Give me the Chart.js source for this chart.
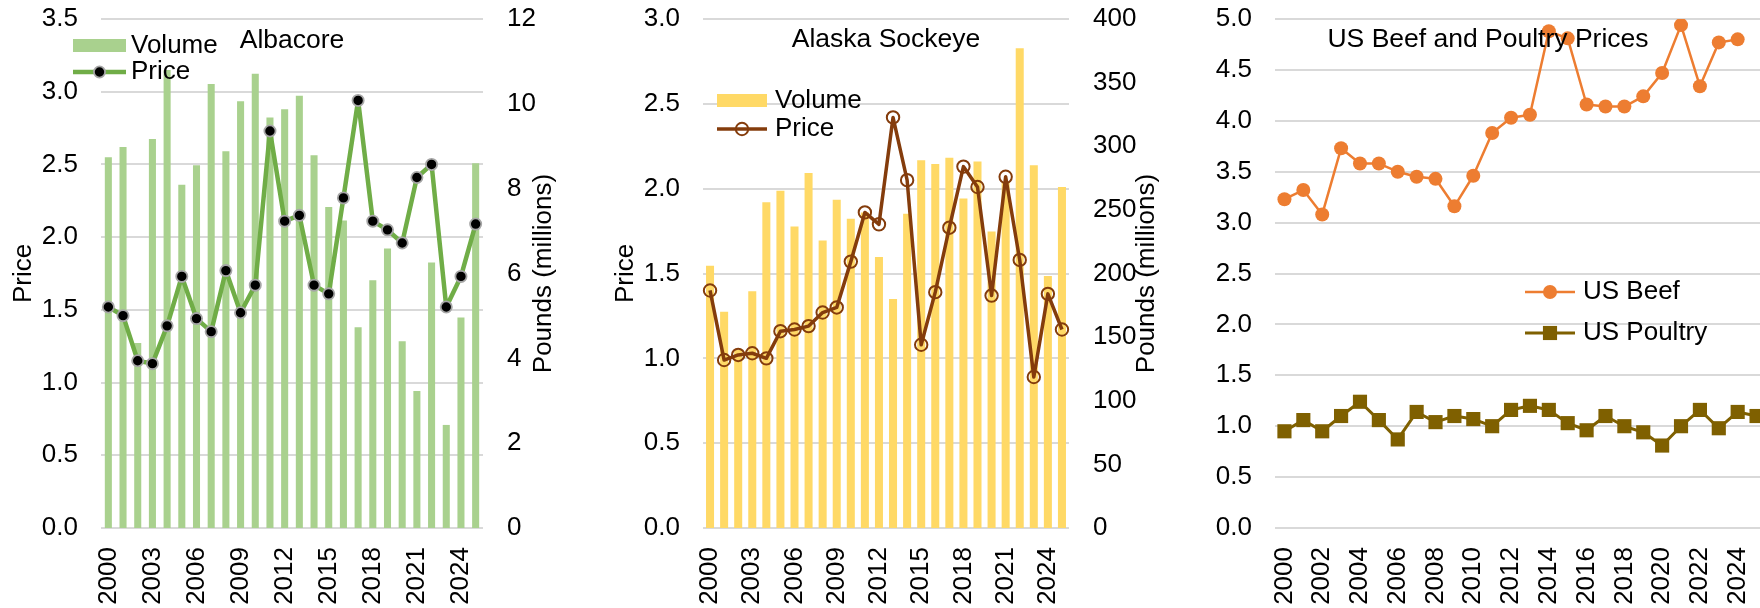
<!DOCTYPE html>
<html><head><meta charset="utf-8">
<script src="https://cdn.jsdelivr.net/npm/chart.js@4.4.1/dist/chart.umd.min.js"></script>
<style>
html,body{margin:0;padding:0;background:#fff;overflow:hidden;width:1760px;height:608px;}
canvas{position:absolute;top:0;}
</style></head><body>
<canvas id="c1" width="580" height="608" style="left:0px"></canvas>
<canvas id="c2" width="590" height="608" style="left:580px"></canvas>
<canvas id="c3" width="606" height="608" style="left:1170px"></canvas>
<script>
// ---------- DATA ----------
const years = ['2000','2001','2002','2003','2004','2005','2006','2007','2008','2009','2010','2011','2012','2013','2014','2015','2016','2017','2018','2019','2020','2021','2022','2023','2024','2025'];
const fishTickLabels = ['2000','2003','2006','2009','2012','2015','2018','2021','2024'];
const meatTickLabels = ['2000','2002','2004','2006','2008','2010','2012','2014','2016','2018','2020','2022','2024'];

const albacoreVolume = [8.74, 8.98, 4.36, 9.17, 10.8, 8.09, 8.55, 10.47, 8.88, 10.06, 10.71, 9.68, 9.87, 10.19, 8.79, 7.57, 7.25, 4.73, 5.84, 6.59, 4.40, 3.23, 6.26, 2.43, 4.96, 8.60];
const albacorePrice  = [1.52, 1.46, 1.15, 1.13, 1.39, 1.73, 1.44, 1.35, 1.77, 1.48, 1.67, 2.73, 2.11, 2.15, 1.67, 1.61, 2.27, 2.94, 2.11, 2.05, 1.96, 2.41, 2.50, 1.52, 1.73, 2.09];

const sockeyeVolume = [206, 170, 140, 186, 256, 265, 237, 279, 226, 258, 243, 248, 213, 180, 247, 289, 286, 291, 259, 288, 233, 272, 377, 285, 198, 268];
const sockeyePrice  = [1.40, 0.99, 1.02, 1.03, 1.00, 1.16, 1.17, 1.19, 1.27, 1.30, 1.57, 1.86, 1.79, 2.42, 2.05, 1.08, 1.39, 1.77, 2.13, 2.01, 1.37, 2.07, 1.58, 0.89, 1.38, 1.17];

const beefPrice    = [3.23, 3.32, 3.08, 3.73, 3.58, 3.58, 3.50, 3.45, 3.43, 3.16, 3.46, 3.88, 4.03, 4.06, 4.88, 4.81, 4.16, 4.14, 4.14, 4.24, 4.47, 4.94, 4.34, 4.77, 4.80, null];
const poultryPrice = [0.95, 1.06, 0.95, 1.10, 1.24, 1.06, 0.87, 1.14, 1.04, 1.10, 1.07, 1.00, 1.16, 1.20, 1.16, 1.03, 0.96, 1.10, 1.00, 0.94, 0.81, 1.00, 1.16, 0.98, 1.14, 1.10];

// ---------- STYLE ----------
const FAMILY = "'Liberation Sans', Arial, sans-serif";
const FS = 26;
const TITLE_FS = 26.5;
Chart.defaults.font.family = FAMILY;
Chart.defaults.font.size = FS;
Chart.defaults.color = '#000';
Chart.defaults.animation = false;
const GRID = '#d9d9d9';

const overlay = {
  id: 'overlay',
  afterDraw(chart, args, o) {
    const ctx = chart.ctx;
    ctx.save();
    ctx.textBaseline = 'middle';
    ctx.fillStyle = '#000';
    if (o.title) {
      ctx.font = TITLE_FS + 'px ' + FAMILY;
      ctx.textAlign = 'center';
      ctx.fillText(o.title.text, o.title.x, o.title.y);
    }
    ctx.font = FS + 'px ' + FAMILY;
    (o.legend || []).forEach(it => {
      const ds = chart.data.datasets[it.ds];
      if (ds.type === 'bar') {
        ctx.fillStyle = ds.backgroundColor;
        ctx.fillRect(it.x0, it.y - it.h / 2, it.x1 - it.x0, it.h);
      } else {
        ctx.strokeStyle = ds.borderColor;
        ctx.lineWidth = ds.borderWidth;
        ctx.beginPath(); ctx.moveTo(it.x0, it.y); ctx.lineTo(it.x1, it.y); ctx.stroke();
        const mx = (it.x0 + it.x1) / 2;
        const r = ds.pointRadius;
        ctx.beginPath();
        if (ds.pointStyle === 'rect') {
          const s = r * Math.SQRT1_2;
          ctx.rect(mx - s, it.y - s, 2 * s, 2 * s);
        } else {
          ctx.arc(mx, it.y, r, 0, Math.PI * 2);
        }
        ctx.fillStyle = ds.pointBackgroundColor;
        ctx.fill();
        if (ds.pointBorderWidth > 0) {
          ctx.strokeStyle = ds.pointBorderColor;
          ctx.lineWidth = ds.pointBorderWidth;
          ctx.stroke();
        }
      }
      ctx.fillStyle = '#000';
      ctx.textAlign = 'left';
      ctx.fillText(ds.label, it.tx, it.y);
    });
    if (o.rightTitle) {
      const a = chart.chartArea;
      ctx.translate(o.rightTitle.x, (a.top + a.bottom) / 2);
      ctx.rotate(-Math.PI / 2);
      ctx.textAlign = 'center';
      ctx.fillStyle = '#000';
      ctx.fillText(o.rightTitle.text, 0, 0);
    }
    ctx.restore();
  }
};

function xAxis(tickSet) {
  return {
    type: 'category', offset: true,
    grid: { display: false, drawTicks: false },
    border: { display: false },
    ticks: {
      autoSkip: false, minRotation: 90, maxRotation: 90, padding: 19,
      callback: function(v, i) { const l = this.getLabelForValue(v); return tickSet.includes(l) ? l : ''; }
    },
    afterFit(s) { s.height = 80; s.paddingLeft = 0; s.paddingRight = 0; }
  };
}
function yAxis(pos, max, step, width, dec, grid, title, titlePad) {
  return {
    position: pos, min: 0, max: max,
    grid: { display: grid, color: GRID, lineWidth: 2, drawTicks: false },
    border: { display: false },
    ticks: { stepSize: step, padding: pos === 'left' ? 23 : 24, callback: v => v.toFixed(dec) },
    title: title ? { display: true, text: title, padding: { top: titlePad, bottom: 0 } } : { display: false },
    afterFit(s) { s.width = width; s.paddingTop = 0; s.paddingBottom = 0; }
  };
}

// ---------- PANEL 1: Albacore ----------
new Chart(document.getElementById('c1'), {
  data: {
    labels: years,
    datasets: [
      { type: 'line', label: 'Price', data: albacorePrice, yAxisID: 'y', order: 0,
        borderColor: '#70AD47', borderWidth: 4.5, tension: 0, borderJoinStyle: 'round',
        pointRadius: 5.6, pointBackgroundColor: '#000', pointBorderColor: '#a6a6a6', pointBorderWidth: 1.8 },
      { type: 'bar', label: 'Volume', data: albacoreVolume, yAxisID: 'y1', order: 1,
        backgroundColor: '#A9D18E', barPercentage: 0.48, categoryPercentage: 1 }
    ]
  },
  options: {
    responsive: false,
    layout: { padding: { top: 19, left: 0, right: 0, bottom: 0 } },
    plugins: { legend: { display: false }, tooltip: { enabled: false },
      overlay: {
        title: { text: 'Albacore', x: 292, y: 41 },
        legend: [ { ds: 1, x0: 73, x1: 126, y: 45.5, h: 13, tx: 131 },
                  { ds: 0, x0: 73, x1: 126, y: 72, tx: 131 } ],
        rightTitle: { text: 'Pounds (millions)', x: 544 }
      } },
    scales: {
      x: xAxis(fishTickLabels),
      y: yAxis('left', 3.5, 0.5, 101, 1, true, 'Price', 8),
      y1: yAxis('right', 12, 2, 97, 0, false, null, 0)
    }
  },
  plugins: [overlay]
});

// ---------- PANEL 2: Alaska Sockeye ----------
new Chart(document.getElementById('c2'), {
  data: {
    labels: years,
    datasets: [
      { type: 'line', label: 'Price', data: sockeyePrice, yAxisID: 'y', order: 0,
        borderColor: '#843C0C', borderWidth: 3.5, tension: 0, borderJoinStyle: 'round',
        pointRadius: 6.2, pointBackgroundColor: 'rgba(0,0,0,0)', pointBorderColor: '#843C0C', pointBorderWidth: 2 },
      { type: 'bar', label: 'Volume', data: sockeyeVolume, yAxisID: 'y1', order: 1,
        backgroundColor: '#FFD966', barPercentage: 0.57, categoryPercentage: 1 }
    ]
  },
  options: {
    responsive: false,
    layout: { padding: { top: 19, left: 0, right: 0, bottom: 0 } },
    plugins: { legend: { display: false }, tooltip: { enabled: false },
      overlay: {
        title: { text: 'Alaska Sockeye', x: 306, y: 40 },
        legend: [ { ds: 1, x0: 137, x1: 187, y: 100.5, h: 13, tx: 195 },
                  { ds: 0, x0: 137, x1: 187, y: 129, tx: 195 } ],
        rightTitle: { text: 'Pounds (millions)', x: 567 }
      } },
    scales: {
      x: xAxis(fishTickLabels),
      y: yAxis('left', 3.0, 0.5, 123, 1, true, 'Price', 30),
      y1: yAxis('right', 400, 50, 101, 0, false, null, 0)
    }
  },
  plugins: [overlay]
});

// ---------- PANEL 3: US Beef and Poultry ----------
new Chart(document.getElementById('c3'), {
  data: {
    labels: years,
    datasets: [
      { type: 'line', label: 'US Beef', data: beefPrice, yAxisID: 'y',
        borderColor: '#ED7D31', borderWidth: 2.5, tension: 0, borderJoinStyle: 'round',
        pointRadius: 7, pointStyle: 'circle', pointBackgroundColor: '#ED7D31', pointBorderColor: '#ED7D31', pointBorderWidth: 0 },
      { type: 'line', label: 'US Poultry', data: poultryPrice, yAxisID: 'y',
        borderColor: '#7F6000', borderWidth: 3, tension: 0, borderJoinStyle: 'round',
        pointRadius: 10, pointStyle: 'rect', pointBackgroundColor: '#7F6000', pointBorderColor: '#7F6000', pointBorderWidth: 0 }
    ]
  },
  options: {
    responsive: false,
    layout: { padding: { top: 19, left: 0, right: 0, bottom: 0 } },
    plugins: { legend: { display: false }, tooltip: { enabled: false },
      overlay: {
        title: { text: 'US Beef and Poultry Prices', x: 318, y: 40 },
        legend: [ { ds: 0, x0: 355, x1: 405, y: 292, tx: 413 },
                  { ds: 1, x0: 355, x1: 405, y: 333, tx: 413 } ]
      } },
    scales: {
      x: xAxis(meatTickLabels),
      y: yAxis('left', 5.0, 0.5, 105, 1, true, null, 0)
    }
  },
  plugins: [overlay]
});
</script>
</body></html>
